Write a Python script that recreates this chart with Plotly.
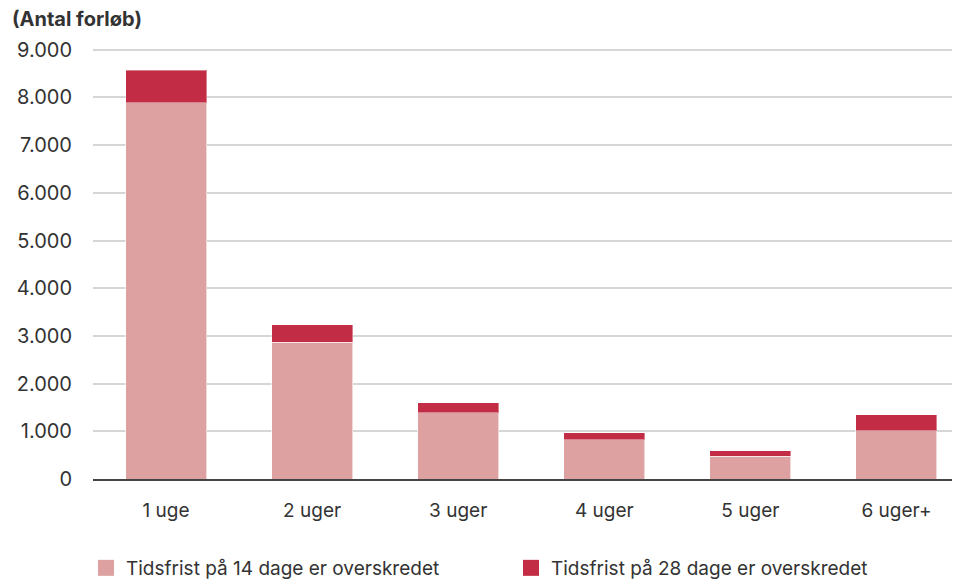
import plotly.graph_objects as go

categories = ["1 uge", "2 uger", "3 uger", "4 uger", "5 uger", "6 uger+"]
over14 = [7890, 2870, 1385, 820, 480, 1015]
over28 = [680, 360, 215, 145, 110, 330]
y_ticks = [0, 1000, 2000, 3000, 4000, 5000, 6000, 7000, 8000, 9000]
series_names = ["Tidsfrist på 14 dage er overskredet", "Tidsfrist på 28 dage er overskredet"]
colors = ["#DCA1A0", "#C22D45"]

FONT = "Inter, Roboto, sans-serif"

fig = go.Figure()
fig.add_trace(go.Bar(x=categories, y=over14, name=series_names[0], showlegend=False,
                     marker=dict(color=colors[0], line=dict(color="rgba(255,255,255,0.6)", width=1)),
                     width=0.555))
fig.add_trace(go.Bar(x=categories, y=over28, name=series_names[1], showlegend=False,
                     marker=dict(color=colors[1], line=dict(color="rgba(255,255,255,0.4)", width=1)),
                     width=0.555))
# legend entries with larger square symbols
for name, c in zip(series_names, colors):
    fig.add_trace(go.Scatter(x=[None], y=[None], mode="markers", name=name,
                             marker=dict(symbol="square", size=16, color=c), hoverinfo="skip"))

fig.update_layout(
    barmode="stack",
    width=960, height=582,
    margin=dict(l=85, r=0, t=37, b=111, autoexpand=False),
    plot_bgcolor="white", paper_bgcolor="white",
    separators=",.",
    font=dict(family=FONT, size=19, color="#333333"),
    xaxis=dict(range=[-0.5, 5.49], showgrid=False, showline=True, linecolor="#444444", linewidth=2,
               ticks="", tickfont=dict(size=19, color="#333333"), ticklabelstandoff=13),
    yaxis=dict(range=[0, 9100], tickvals=y_ticks, tickformat=",d", showgrid=True,
               gridcolor="#D6D6D6", gridwidth=2, zeroline=False, showline=False,
               tickfont=dict(size=20, color="#333333"), ticklabelstandoff=20),
    showlegend=True,
    legend=dict(orientation="h", xref="container", x=78/960, xanchor="left",
                yref="container", y=22/582, yanchor="middle",
                font=dict(size=19, color="#333333"), entrywidth=380, traceorder="normal"),
    annotations=[dict(text="<b>(Antal forløb)</b>", xref="paper", yref="paper",
                      x=-83/875, y=1.0, xanchor="left", yanchor="bottom", yshift=12,
                      showarrow=False, font=dict(size=20, color="#333333"))],
)

fig.write_html("out.html")
